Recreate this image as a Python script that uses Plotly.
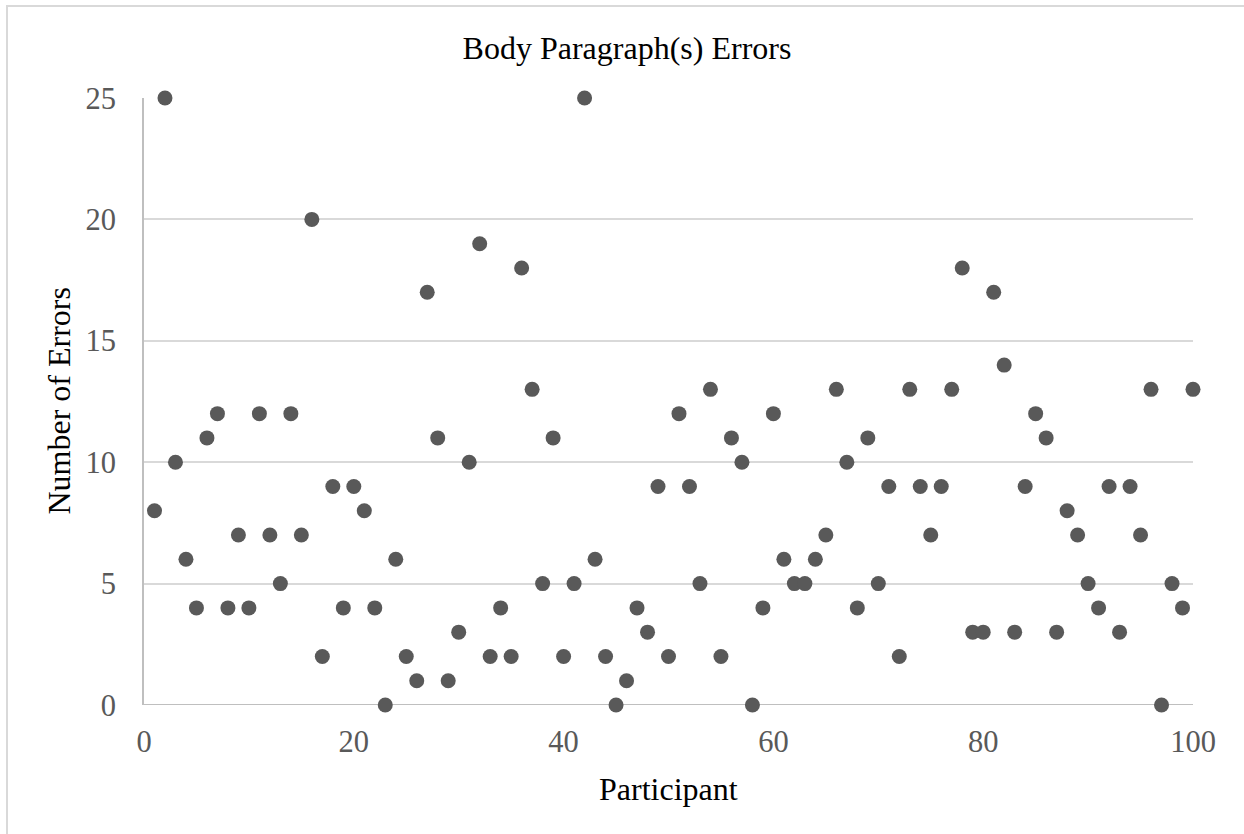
import plotly.graph_objects as go

participants = list(range(1, 101))
errors = [8, 25, 10, 6, 4, 11, 12, 4, 7, 4,
          12, 7, 5, 12, 7, 20, 2, 9, 4, 9,
          8, 4, 0, 6, 2, 1, 17, 11, 1, 3,
          10, 19, 2, 4, 2, 18, 13, 5, 11, 2,
          5, 25, 6, 2, 0, 1, 4, 3, 9, 2,
          12, 9, 5, 13, 2, 11, 10, 0, 4, 12,
          6, 5, 5, 6, 7, 13, 10, 4, 11, 5,
          9, 2, 13, 9, 7, 9, 13, 18, 3, 3,
          17, 14, 3, 9, 12, 11, 3, 8, 7, 5,
          4, 9, 3, 9, 7, 13, 0, 5, 4, 13]
x_ticks = [0, 20, 40, 60, 80, 100]
y_ticks = [0, 5, 10, 15, 20, 25]

FONT = "Times New Roman, Liberation Serif, serif"
W, H = 1244, 834
L, R, T, B = 144, 51, 98, 129
PW, PH = W - L - R, H - T - B

fig = go.Figure()
fig.add_trace(go.Scatter(
    x=participants, y=errors, mode="markers",
    marker=dict(size=15, color="#595959", line=dict(width=0)),
    cliponaxis=False, showlegend=False,
))

fig.update_layout(
    width=W, height=H,
    margin=dict(l=L, r=R, t=T, b=B, pad=0),
    paper_bgcolor="white", plot_bgcolor="white",
    font=dict(family=FONT, color="#595959"),
    title=dict(text="Body Paragraph(s) Errors", x=627 / W, xanchor="center",
               y=1 - 48 / H, yanchor="middle",
               font=dict(family=FONT, size=32, color="#000000")),
    xaxis=dict(range=[0, 100], tickvals=x_ticks, ticktext=[str(v) for v in x_ticks],
               showgrid=False, zeroline=False, showline=False,
               ticks="", ticklabelstandoff=15,
               tickfont=dict(family=FONT, size=30.5, color="#595959")),
    yaxis=dict(range=[0, 25], tickvals=y_ticks, ticktext=[str(v) for v in y_ticks],
               showgrid=True, gridcolor="#d9d9d9", gridwidth=2,
               zeroline=False, showline=True, linecolor="#bfbfbf", linewidth=2,
               ticks="", ticklabelstandoff=20,
               tickfont=dict(family=FONT, size=30.5, color="#595959")),
    annotations=[
        dict(text="Number of Errors", xref="paper", yref="paper", x=0, y=0.5,
             xshift=58 - L, xanchor="center", yanchor="middle", textangle=-90,
             showarrow=False, font=dict(family=FONT, size=32, color="#000000")),
        dict(text="Participant", xref="paper", yref="paper", x=0.5, y=0,
             yshift=-(789 - (H - B)), xanchor="center", yanchor="middle",
             showarrow=False, font=dict(family=FONT, size=32, color="#000000")),
    ],
    shapes=[
        # x axis baseline at y=0
        dict(type="line", xref="paper", yref="y", x0=0, x1=1, y0=0, y1=0,
             line=dict(color="#bfbfbf", width=2), layer="below"),
        # outer chart border (left and top edges visible)
        dict(type="rect", xref="paper", yref="paper",
             x0=(7 - L) / PW, x1=(1260 - L) / PW,
             y0=(H - B - 850) / PH, y1=(H - B - 6) / PH,
             line=dict(color="#d9d9d9", width=2), fillcolor="rgba(0,0,0,0)",
             layer="below"),
    ],
)

fig.write_html("out.html", config={"displayModeBar": False},
               post_script="document.body.style.margin='0';document.body.style.overflow='hidden';")
